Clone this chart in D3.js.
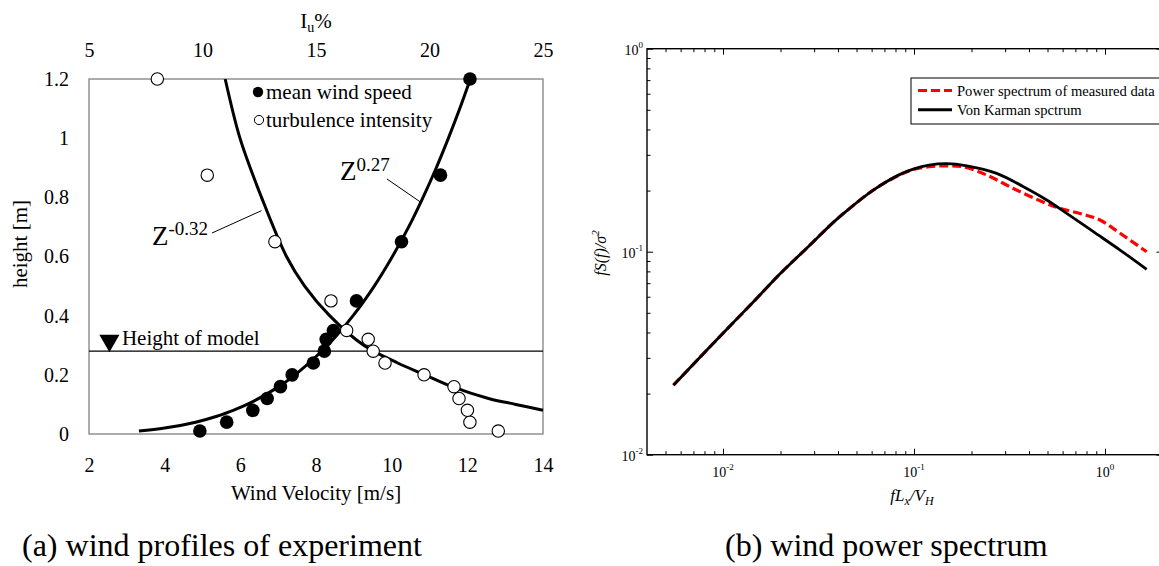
<!DOCTYPE html>
<html>
<head>
<meta charset="utf-8">
<script src="https://cdn.jsdelivr.net/npm/d3@7"></script>
<style>
  body { margin: 0; background: #fff; }
  text { font-family: "Liberation Serif", "Times New Roman", serif; fill: #000; }
</style>
</head>
<body>
<svg id="fig" width="1159" height="566"></svg>
<script>
// ---- (a) wind profiles: measured points ----
var windH = [0.01, 0.04, 0.08, 0.12, 0.16, 0.2, 0.24, 0.28, 0.32, 0.35, 0.45, 0.65, 0.875, 1.2];
var windV = [4.93, 5.64, 6.33, 6.71, 7.06, 7.37, 7.93, 8.22, 8.27, 8.46, 9.07, 10.26, 11.29, 12.07];
var turbH = [0.01, 0.04, 0.08, 0.12, 0.16, 0.2, 0.24, 0.28, 0.32, 0.35, 0.45, 0.65, 0.875, 1.2];
var turbI = [23.03, 21.78, 21.67, 21.3, 21.08, 19.76, 18.04, 17.52, 17.3, 16.35, 15.66, 13.19, 10.21, 8.01];

// fitted curves
var fitVH = [0.01, 0.02, 0.04, 0.06, 0.08, 0.1, 0.15, 0.2, 0.3, 0.4, 0.5, 0.6, 0.7, 0.8, 0.9, 1.0, 1.1, 1.2];
var fitV  = [3.32, 4.0, 4.82, 5.38, 5.81, 6.18, 6.89, 7.45, 8.31, 8.98, 9.54, 10.02, 10.45, 10.83, 11.18, 11.5, 11.8, 12.08];
var fitIH = [0.08, 0.1, 0.12, 0.16, 0.2, 0.24, 0.3, 0.4, 0.5, 0.6, 0.8, 1.0, 1.2];
var fitI  = [25.0, 23.8, 22.6, 21.0, 19.8, 18.6, 17.1, 15.6, 14.5, 13.7, 12.6, 11.65, 11.0];

var modelHeight = 0.28;

var vTicks = [2, 4, 6, 8, 10, 12, 14];
var iTicks = [5, 10, 15, 20, 25];
var hTicks = [0, 0.2, 0.4, 0.6, 0.8, 1, 1.2];

// ---- (b) wind power spectrum ----
var karmanF = [0.0055, 0.0076, 0.0105, 0.0144, 0.0199, 0.0274, 0.0378, 0.0444, 0.0612, 0.0845, 0.0991, 0.12, 0.148, 0.189, 0.271, 0.374, 0.495, 0.63, 0.869, 1.199, 1.652];
var karmanS = [0.022, 0.0303, 0.0416, 0.0565, 0.0778, 0.104, 0.1395, 0.159, 0.2012, 0.2404, 0.255, 0.267, 0.2715, 0.265, 0.2432, 0.2089, 0.1798, 0.1546, 0.1255, 0.1019, 0.0819];
var measF = [0.0055, 0.0076, 0.0105, 0.0144, 0.0199, 0.0274, 0.0378, 0.0444, 0.0612, 0.0845, 0.0991, 0.12, 0.148, 0.181, 0.24, 0.331, 0.457, 0.581, 0.769, 0.942, 1.199, 1.652];
var measS = [0.022, 0.0303, 0.0416, 0.0565, 0.0778, 0.104, 0.1395, 0.159, 0.2012, 0.2395, 0.254, 0.262, 0.265, 0.262, 0.2388, 0.2049, 0.1783, 0.1636, 0.1528, 0.1432, 0.1233, 0.1];

var fMajor = [0.01, 0.1, 1];
var fMinor = [0.005, 0.006, 0.007, 0.008, 0.009, 0.02, 0.03, 0.04, 0.05, 0.06, 0.07, 0.08, 0.09,
              0.2, 0.3, 0.4, 0.5, 0.6, 0.7, 0.8, 0.9, 2];
var sMajor = [0.01, 0.1, 1];
var sMinor = [0.02, 0.03, 0.04, 0.05, 0.06, 0.07, 0.08, 0.09, 0.2, 0.3, 0.4, 0.5, 0.6, 0.7, 0.8, 0.9];
var majorExp = ["-2", "-1", "0"];

var svg = d3.select("#fig");
svg.append("rect").attr("width", 1159).attr("height", 566).attr("fill", "#fff");

// ================= left panel =================
var xV = d3.scaleLinear().domain([2, 14]).range([89, 543]);
var xI = d3.scaleLinear().domain([5, 25]).range([89, 543]);
var yH = d3.scaleLinear().domain([0, 1.2]).range([434, 79]);

var left = svg.append("g");

left.append("rect")
  .attr("x", xV(2)).attr("y", yH(1.2))
  .attr("width", xV(14) - xV(2)).attr("height", yH(0) - yH(1.2))
  .attr("fill", "none").attr("stroke", "#808080").attr("stroke-width", 1.3);

function styleAxis(g, size) {
  g.select(".domain").remove();
  g.selectAll("text").attr("font-family", "Liberation Serif, Times New Roman, serif")
    .attr("font-size", size).attr("fill", "#000");
}

left.append("g").attr("transform", "translate(" + xV(2) + ",0)")
  .call(d3.axisLeft(yH).tickValues(hTicks).tickSize(0).tickPadding(20)
    .tickFormat(function (d) { return String(+d.toFixed(1)); }))
  .call(styleAxis, 20);

left.append("g").attr("transform", "translate(0," + yH(0) + ")")
  .call(d3.axisBottom(xV).tickValues(vTicks).tickSize(0).tickPadding(24))
  .call(styleAxis, 20);

left.append("g").attr("transform", "translate(0," + yH(1.2) + ")")
  .call(d3.axisTop(xI).tickValues(iTicks).tickSize(0).tickPadding(22))
  .call(styleAxis, 20);

left.append("text").attr("x", 316).attr("y", 500).attr("text-anchor", "middle")
  .attr("font-size", 21).text("Wind Velocity [m/s]");

var iu = left.append("text").attr("x", 316).attr("y", 28).attr("text-anchor", "middle").attr("font-size", 21);
iu.append("tspan").text("I");
iu.append("tspan").attr("font-size", 14).attr("dy", 4).text("u");
iu.append("tspan").attr("dy", -4).text("%");

left.append("text").attr("transform", "translate(27,244) rotate(-90)")
  .attr("text-anchor", "middle").attr("font-size", 21).text("height [m]");

// model height line + marker
left.append("line")
  .attr("x1", xV(2)).attr("x2", xV(14))
  .attr("y1", yH(modelHeight)).attr("y2", yH(modelHeight))
  .attr("stroke", "#000").attr("stroke-width", 1.2);
left.append("path")
  .attr("d", d3.symbol(d3.symbolTriangle, 175)())
  .attr("transform", "translate(" + xV(2.54) + "," + (yH(modelHeight) - 10.5) + ") rotate(180)")
  .attr("fill", "#000");
left.append("text").attr("x", xV(2.87)).attr("y", yH(modelHeight) - 6)
  .attr("font-size", 21).text("Height of model");

// fitted curves
var lineV = d3.line()
  .x(function (d, i) { return xV(fitV[i]); })
  .y(function (d) { return yH(d); })
  .curve(d3.curveCatmullRom);
var lineI = d3.line()
  .x(function (d, i) { return xI(fitI[i]); })
  .y(function (d) { return yH(d); })
  .curve(d3.curveCatmullRom);

left.append("path").attr("d", lineV(fitVH))
  .attr("fill", "none").attr("stroke", "#000").attr("stroke-width", 3);
left.append("path").attr("d", lineI(fitIH))
  .attr("fill", "none").attr("stroke", "#000").attr("stroke-width", 3);

// points
left.selectAll(".wind").data(windH).enter().append("circle")
  .attr("class", "wind")
  .attr("cx", function (d, i) { return xV(windV[i]); })
  .attr("cy", function (d) { return yH(d); })
  .attr("r", 6.8).attr("fill", "#000");

left.selectAll(".turb").data(turbH).enter().append("circle")
  .attr("class", "turb")
  .attr("cx", function (d, i) { return xI(turbI[i]); })
  .attr("cy", function (d) { return yH(d); })
  .attr("r", 6.2).attr("fill", "#fff").attr("stroke", "#000").attr("stroke-width", 1.1);

// legend
left.append("circle").attr("cx", 258).attr("cy", 92).attr("r", 5.2).attr("fill", "#000");
left.append("text").attr("x", 266).attr("y", 99).attr("font-size", 21).text("mean wind speed");
left.append("circle").attr("cx", 259).attr("cy", 120).attr("r", 4.6).attr("fill", "#fff")
  .attr("stroke", "#000").attr("stroke-width", 1);
left.append("text").attr("x", 266).attr("y", 127).attr("font-size", 21).text("turbulence intensity");

// curve labels with leader lines
var zNeg = left.append("text").attr("x", 152).attr("y", 245).attr("font-size", 27);
zNeg.append("tspan").text("Z");
zNeg.append("tspan").attr("font-size", 19).attr("dy", -10).text("-0.32");
left.append("line")
  .attr("x1", 212).attr("y1", 233)
  .attr("x2", xI(12.6)).attr("y2", yH(0.755))
  .attr("stroke", "#000").attr("stroke-width", 1);

var zPos = left.append("text").attr("x", 340).attr("y", 180).attr("font-size", 27);
zPos.append("tspan").text("Z");
zPos.append("tspan").attr("font-size", 19).attr("dy", -9).text("0.27");
left.append("line")
  .attr("x1", 387).attr("y1", 179)
  .attr("x2", xV(10.75)).attr("y2", yH(0.785))
  .attr("stroke", "#000").attr("stroke-width", 1);

left.append("text").attr("x", 22).attr("y", 556).attr("font-size", 32)
  .text("(a) wind profiles of experiment");

// ================= right panel =================
var xF = d3.scaleLog().domain([0.004, 2]).range([647, 1162.5]);
var yS = d3.scaleLog().domain([0.01, 1]).range([454.7, 48.7]);

var right = svg.append("g");

function tickAxis(g) {
  g.select(".domain").remove();
  g.selectAll("line").attr("stroke", "#000").attr("stroke-width", 1);
}
var nf = function () { return ""; };

right.append("g").attr("transform", "translate(0," + yS(0.01) + ")")
  .call(d3.axisBottom(xF).tickValues(fMinor).tickSize(-3.5).tickFormat(nf)).call(tickAxis);
right.append("g").attr("transform", "translate(0," + yS(0.01) + ")")
  .call(d3.axisBottom(xF).tickValues(fMajor).tickSize(-6).tickFormat(nf)).call(tickAxis);
right.append("g").attr("transform", "translate(0," + yS(1) + ")")
  .call(d3.axisTop(xF).tickValues(fMinor).tickSize(-3.5).tickFormat(nf)).call(tickAxis);
right.append("g").attr("transform", "translate(0," + yS(1) + ")")
  .call(d3.axisTop(xF).tickValues(fMajor).tickSize(-6).tickFormat(nf)).call(tickAxis);
right.append("g").attr("transform", "translate(" + xF(0.004) + ",0)")
  .call(d3.axisLeft(yS).tickValues(sMinor).tickSize(-3.5).tickFormat(nf)).call(tickAxis);
right.append("g").attr("transform", "translate(" + xF(0.004) + ",0)")
  .call(d3.axisLeft(yS).tickValues(sMajor).tickSize(-6).tickFormat(nf)).call(tickAxis);
right.append("g").attr("transform", "translate(" + xF(2) + ",0)")
  .call(d3.axisRight(yS).tickValues(sMinor).tickSize(-3.5).tickFormat(nf)).call(tickAxis);
right.append("g").attr("transform", "translate(" + xF(2) + ",0)")
  .call(d3.axisRight(yS).tickValues(sMajor).tickSize(-6).tickFormat(nf)).call(tickAxis);

right.append("rect")
  .attr("x", xF(0.004)).attr("y", yS(1))
  .attr("width", xF(2) - xF(0.004)).attr("height", yS(0.01) - yS(1))
  .attr("fill", "none").attr("stroke", "#000").attr("stroke-width", 1.4);

// tick labels 10^n
fMajor.forEach(function (v, i) {
  var t = right.append("text").attr("x", xF(v)).attr("y", 477).attr("text-anchor", "middle").attr("font-size", 14);
  t.append("tspan").text("10");
  t.append("tspan").attr("font-size", 9).attr("dy", -7).text(majorExp[i]);
});
sMajor.forEach(function (v, i) {
  var t = right.append("text").attr("x", xF(0.004) - 4).attr("y", yS(v) + 6).attr("text-anchor", "end").attr("font-size", 14);
  t.append("tspan").text("10");
  t.append("tspan").attr("font-size", 9).attr("dy", -7).text(majorExp[i]);
});

var xl = right.append("text").attr("x", 912).attr("y", 501).attr("text-anchor", "middle")
  .attr("font-size", 17).attr("font-style", "italic");
xl.append("tspan").text("fL");
xl.append("tspan").attr("font-size", 12).attr("dy", 4).text("x");
xl.append("tspan").attr("dy", -4).text("/V");
xl.append("tspan").attr("font-size", 12).attr("dy", 4).text("H");

var yl = right.append("text").attr("transform", "translate(606,253) rotate(-90)")
  .attr("text-anchor", "middle").attr("font-size", 16).attr("font-style", "italic");
yl.append("tspan").text("fS(f)/σ");
yl.append("tspan").attr("font-size", 11).attr("dy", -7).text("2");

// curves
var specLine = function (fs) {
  return d3.line()
    .x(function (d, i) { return xF(fs[i]); })
    .y(function (d) { return yS(d); })
    .curve(d3.curveCatmullRom);
};
right.append("path").attr("d", specLine(measF)(measS))
  .attr("fill", "none").attr("stroke", "#ff0000").attr("stroke-width", 3.2)
  .attr("stroke-dasharray", "9,4");
right.append("path").attr("d", specLine(karmanF)(karmanS))
  .attr("fill", "none").attr("stroke", "#000").attr("stroke-width", 2.8);

// legend
var lg = right.append("g");
lg.append("rect").attr("x", 911).attr("y", 78).attr("width", 260).attr("height", 46)
  .attr("fill", "#fff").attr("stroke", "#000").attr("stroke-width", 1);
lg.append("line").attr("x1", 918).attr("x2", 952).attr("y1", 90.5).attr("y2", 90.5)
  .attr("stroke", "#ff0000").attr("stroke-width", 3).attr("stroke-dasharray", "9,4");
lg.append("line").attr("x1", 918).attr("x2", 952).attr("y1", 109.7).attr("y2", 109.7)
  .attr("stroke", "#000").attr("stroke-width", 3);
lg.append("text").attr("x", 957).attr("y", 95.5).attr("font-size", 14.6).text("Power spectrum of measured data");
lg.append("text").attr("x", 957).attr("y", 114.5).attr("font-size", 14.6).text("Von Karman spctrum");

right.append("text").attr("x", 725).attr("y", 556).attr("font-size", 32)
  .text("(b) wind power spectrum");
</script>
</body>
</html>
